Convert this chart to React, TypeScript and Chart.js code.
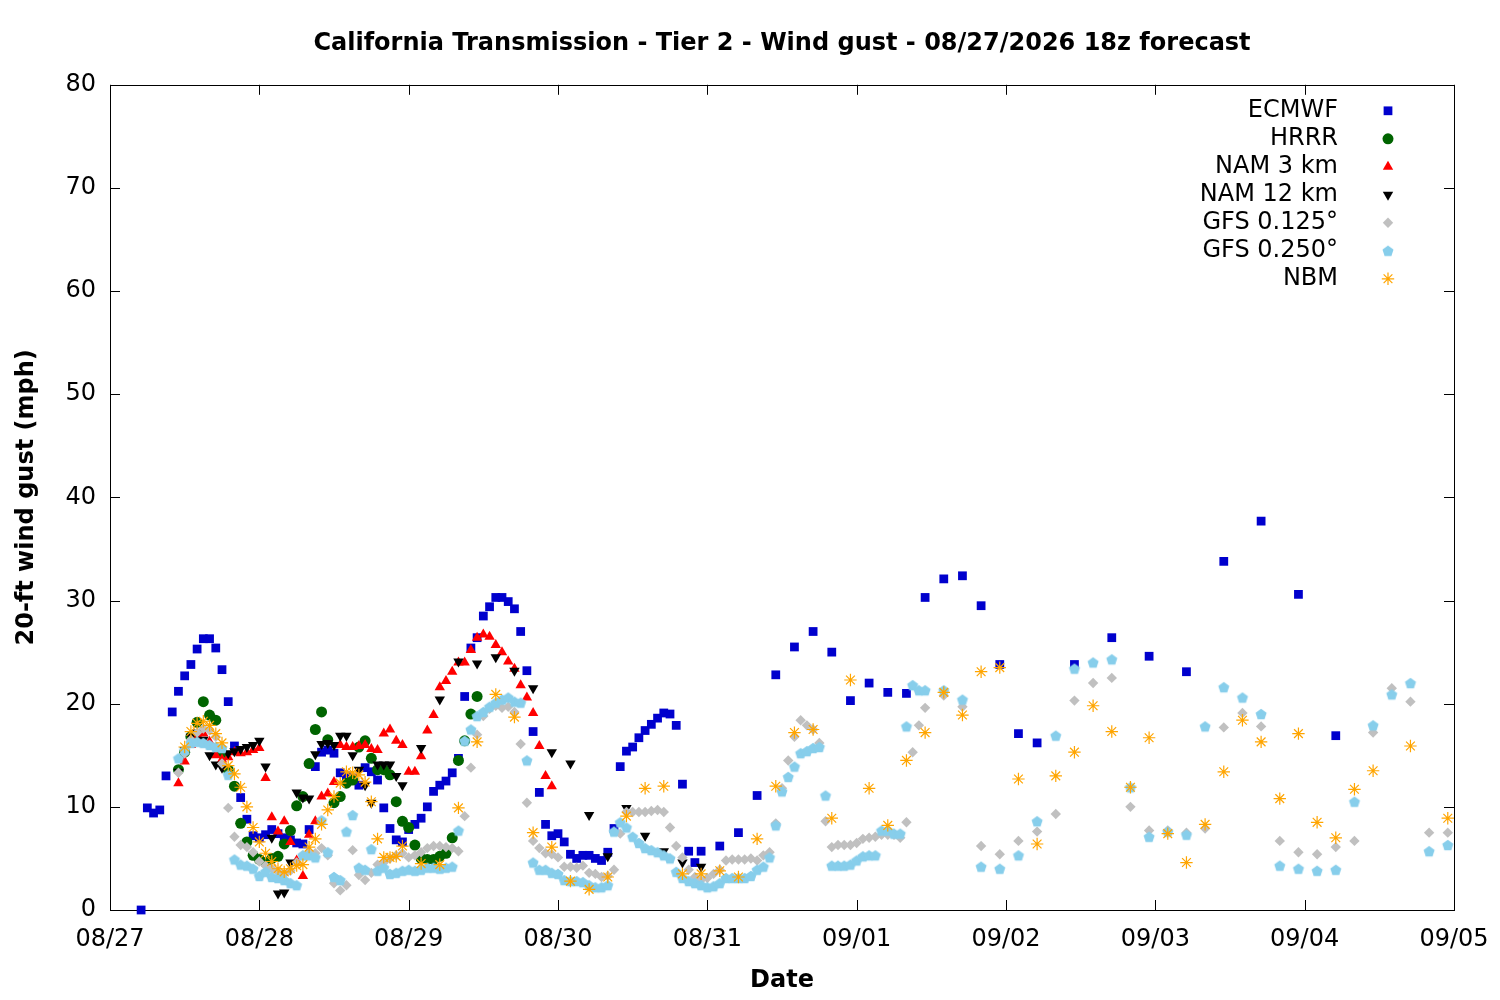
import { useEffect, useRef } from "react";
import { Chart, registerables } from "chart.js";
import { drawPoint } from "chart.js/helpers";

Chart.register(...registerables);

// x axis is hours since 08/27 00 local time, one tick per day
const dayLabels = ["08/27", "08/28", "08/29", "08/30", "08/31", "09/01", "09/02", "09/03", "09/04", "09/05"];
const yTickValues = [0, 10, 20, 30, 40, 50, 60, 70, 80];

const ecmwfHours = [
  5, 6, 7, 8, 9, 10, 11, 12, 13, 14, 15, 16, 17, 18, 19, 20, 21, 22, 23, 24, 25, 26, 27, 28, 29, 30, 31, 32, 33, 34,
  35, 36, 37, 38, 39, 40, 41, 42, 43, 44, 45, 46, 47, 48, 49, 50, 51, 52, 53, 54, 55, 56, 57, 58, 59, 60, 61, 62, 63,
  64, 65, 66, 67, 68, 69, 70, 71, 72, 73, 74, 75, 76, 77, 78, 79, 80, 81, 82, 83, 84, 85, 86, 87, 88, 89, 90, 91, 92,
  93, 94, 95, 98, 101, 104, 107, 110, 113, 116, 119, 122, 125, 128, 131, 134, 137, 140, 143, 146, 149, 155, 161, 167,
  173, 179, 185, 191, 197,
];
const ecmwfGust = [
  0, 9.9, 9.4, 9.7, 13.0, 19.2, 21.2, 22.7, 23.8, 25.3,
  26.3, 26.3, 25.4, 23.3, 20.2, 15.9, 10.9, 8.8, 7.2, 7.0,
  7.3, 7.8, 7.4, 7.0, 6.8, 6.5, 6.4, 7.8, 13.9, 15.3,
  15.5, 15.2, 13.3, 13.0, 12.8, 12.1, 13.8, 13.4, 12.6, 9.9,
  7.9, 6.8, 6.6, 7.8, 8.3, 8.9, 10.0, 11.5, 12.1, 12.5,
  13.3, 14.7, 20.7, 25.4, 26.4, 28.5, 29.4, 30.3, 30.3, 29.9,
  29.2, 27.0, 23.2, 17.3, 11.4, 8.3, 7.2, 7.4, 6.6, 5.4,
  5.0, 5.3, 5.3, 5.0, 4.8, 5.6, 7.9, 13.9, 15.4, 15.8,
  16.7, 17.4, 18.0, 18.6, 19.1, 19.0, 17.9, 12.2, 5.7, 4.6,
  5.7,
  6.2, 7.5, 11.1, 22.8, 25.5, 27.0, 25.0, 20.3, 22.0, 21.1, 21.0, 30.3, 32.1, 32.4, 29.5, 23.8, 17.1, 16.2,
  23.8, 26.4, 24.6, 23.1, 33.8, 37.7, 30.6, 16.9,
];

const hrrrHours = [
  11, 12, 13, 14, 15, 16, 17, 18, 19, 20, 21, 22, 23, 24, 25, 26, 27, 28, 29, 30, 31, 32, 33, 34, 35, 36, 37, 38, 39,
  40, 41, 42, 43, 44, 45, 46, 47, 48, 49, 50, 51, 52, 53, 54, 55, 56, 57, 58, 59,
];
const hrrrGust = [
  13.6, 15.3, 16.8, 18.2, 20.2, 18.9, 18.4, 15.2, 13.6, 12.0,
  8.4, 6.6, 5.3, 4.9, 4.6, 5.0, 5.2, 6.4, 7.7, 10.1,
  11.0, 14.2, 17.5, 19.2, 16.5, 10.4, 11.0, 12.3, 12.6, 15.8,
  16.4, 14.7, 13.6, 13.6, 13.1, 10.5, 8.6, 8.0, 6.3, 5.0,
  4.9, 4.9, 5.2, 5.5, 7.0, 14.5, 16.4, 19.0, 20.7,
];

const nam3Hours = [
  11, 12, 13, 14, 15, 16, 17, 18, 19, 20, 21, 22, 23, 24, 25, 26, 27, 28, 29, 30, 31, 32, 33, 34, 35, 36, 37, 38, 39,
  40, 41, 42, 43, 44, 45, 46, 47, 48, 49, 50, 51, 52, 53, 54, 55, 56, 57, 58, 59, 60, 61, 62, 63, 64, 65, 66, 67, 68,
  69, 70, 71,
];
const nam3Gust = [
  12.3, 14.4, 16.0, 17.0, 17.1, 16.3, 15.0, 14.6, 14.8, 15.3,
  15.2, 15.3, 15.5, 15.7, 12.8, 9.0, 7.6, 8.6, 6.6, 4.8,
  3.3, 7.3, 8.6, 11.0, 11.3, 12.4, 16.0, 15.8, 15.8, 15.9,
  16.0, 15.6, 15.5, 17.1, 17.5, 16.4, 16.0, 13.4, 13.4, 14.9,
  17.4, 18.9, 21.6, 22.2, 23.1, 24.0, 24.0, 25.2, 26.4, 26.7,
  26.5, 25.7, 25.0, 24.1, 23.4, 21.8, 20.6, 19.1, 15.9, 13.0,
  12.0,
];

const nam12Hours = [
  11, 12, 13, 14, 15, 16, 17, 18, 19, 20, 21, 22, 23, 24, 25, 26, 27, 28, 29, 30, 31, 32, 33, 34, 35, 36, 37, 38, 39,
  40, 41, 42, 43, 44, 45, 46, 47, 50, 53, 56, 59, 62, 65, 68, 71, 74, 77, 80, 83, 86, 89, 92, 95,
];
const nam12Gust = [
  13.4, 15.5, 16.8, 17.2, 16.5, 15.0, 14.1, 13.8, 15.2, 15.4,
  15.6, 15.8, 16.0, 16.4, 13.9, 7.0, 1.6, 1.7, 4.6, 11.4,
  10.9, 10.8, 15.1, 16.1, 16.2, 16.0, 16.9, 16.9, 15.0, 13.6,
  12.1, 10.4, 14.1, 14.1, 14.1, 13.0, 12.1,
  15.7, 20.4, 24.1, 23.9, 24.5, 23.2, 21.5, 15.3, 14.2, 9.2, 5.2, 9.9, 7.2, 5.7, 4.6, 4.2,
];

const gfsHours = [
  11, 12, 13, 14, 15, 16, 17, 18, 19, 20, 21, 22, 23, 24, 25, 26, 27, 28, 29, 30, 31, 32, 33, 34, 35, 36, 37, 38, 39,
  40, 41, 42, 43, 44, 45, 46, 47, 48, 49, 50, 51, 52, 53, 54, 55, 56, 57, 58, 59, 60, 61, 62, 63, 64, 65, 66, 67, 68,
  69, 70, 71, 72, 73, 74, 75, 76, 77, 78, 79, 80, 81, 82, 83, 84, 85, 86, 87, 88, 89, 90, 91, 92, 93, 94, 95, 96, 97,
  98, 99, 100, 101, 102, 103, 104, 105, 106, 107, 108, 109, 110, 111, 112, 113, 114, 115, 116, 117, 118, 119, 120,
  121, 122, 123, 124, 125, 126, 127, 128, 129, 130, 131, 134, 137, 140, 143, 146, 149, 152, 155, 158, 161, 164, 167,
  170, 173, 176, 179, 182, 185, 188, 191, 194, 197, 200, 203, 206, 209, 212, 215,
];
const gfs0125Gust = [
  13.3, 15.2, 16.5, 17.2, 17.6, 17.4, 16.8, 14.2, 9.9, 7.1,
  6.3, 6.1, 5.6, 4.7, 4.3, 4.0, 3.7, 3.5, 3.8, 4.6,
  5.3, 5.6, 5.5, 6.0, 5.3, 2.6, 1.9, 2.4, 5.8, 3.4,
  2.9, 3.6, 4.4, 4.6, 5.0, 5.3, 5.5, 5.1, 5.3, 5.6,
  6.0, 6.2, 6.2, 6.1, 6.0, 5.7, 9.1, 13.8, 17.0, 18.8,
  19.5, 19.8, 19.6, 19.7, 19.2, 16.1, 10.4, 6.7, 6.0, 5.5,
  5.4, 5.1, 4.2, 4.2, 4.1, 4.3, 3.6, 3.5, 3.2, 3.3,
  3.9, 7.4, 9.5, 9.5, 9.5, 9.5, 9.6, 9.7, 9.5, 8.0,
  6.2, 5.1, 3.9, 3.2, 2.9, 3.1, 3.5, 3.9, 4.8, 4.9,
  4.9, 4.9, 5.0, 4.8, 5.3, 5.6, 8.4, 11.8, 14.5, 16.8,
  18.4, 17.9, 17.5, 16.2, 8.6, 6.1, 6.3, 6.3, 6.3, 6.5,
  6.9, 7.0, 7.1, 7.3, 7.3, 7.3, 7.0, 8.5, 15.3, 17.9,
  19.6,
  20.8, 19.7, 6.2, 5.4, 6.7, 7.6, 9.3, 20.3, 22.0, 22.5,
  10.0, 7.7, 7.7, 7.5, 7.9, 17.7, 19.1, 17.8, 6.7, 5.6,
  5.4, 6.1, 6.7, 17.2, 21.5, 20.2, 7.5, 7.5,
];
const gfs0250Gust = [
  14.7, 15.5, 16.2, 16.3, 16.2, 16.0, 15.8, 15.7, 13.1, 4.9,
  4.4, 4.3, 4.0, 3.3, 3.7, 3.2, 3.1, 2.9, 2.6, 2.4,
  5.3, 5.3, 5.1, 8.7, 5.6, 3.2, 2.9, 7.6, 9.2, 4.1,
  3.9, 5.9, 3.8, 4.1, 3.5, 3.6, 3.8, 3.9, 3.8, 3.9,
  4.1, 4.1, 4.0, 4.1, 4.2, 7.7, 16.4, 17.5, 18.8, 19.2,
  19.7, 20.1, 20.4, 20.6, 20.2, 20.1, 14.5, 4.6, 3.9, 3.9,
  3.6, 3.5, 2.9, 2.8, 2.8, 2.7, 2.4, 2.2, 2.2, 2.4,
  7.6, 8.5, 8.0, 7.1, 6.5, 6.0, 5.8, 5.6, 5.3, 5.0,
  3.7, 3.1, 2.8, 2.6, 2.4, 2.2, 2.3, 2.6, 3.1, 3.1,
  3.1, 3.1, 3.3, 3.9, 4.2, 5.1, 8.2, 11.5, 12.9, 13.9,
  15.2, 15.4, 15.7, 15.8, 11.1, 4.3, 4.3, 4.3, 4.4, 4.8,
  5.2, 5.3, 5.3, 7.7, 7.7, 7.4, 7.4, 17.8, 21.8, 21.3,
  21.3,
  21.3, 20.4, 4.2, 4.0, 5.3, 8.6, 16.9, 23.4, 24.0, 24.3,
  11.9, 7.1, 7.6, 7.3, 17.8, 21.6, 20.6, 19.0, 4.3, 4.0,
  3.8, 3.9, 10.5, 17.9, 20.9, 22.0, 5.7, 6.3,
];

const nbmHours = [
  12, 13, 14, 15, 16, 17, 18, 19, 20, 21, 22, 23, 24, 25, 26, 27, 28, 29, 30, 31, 32, 33, 34, 35, 36, 37, 38, 39, 40,
  41, 42, 43, 44, 45, 46, 47, 50, 53, 56, 59, 62, 65, 68, 71, 74, 77, 80, 83, 86, 89, 92, 95, 98, 101, 104, 107, 110,
  113, 116, 119, 122, 125, 128, 131, 134, 137, 140, 143, 146, 149, 152, 155, 158, 161, 164, 167, 170, 173, 176, 179,
  182, 185, 188, 191, 194, 197, 200, 203, 209, 215,
];
const nbmGust = [
  15.8, 17.3, 18.1, 18.3, 17.9, 17.1, 16.2, 14.0, 13.2, 11.9,
  10.0, 8.0, 6.6, 5.5, 4.7, 4.0, 3.7, 4.0, 4.3, 4.4,
  6.1, 6.9, 8.3, 9.7, 11.0, 12.3, 13.4, 13.3, 13.1, 12.4,
  10.5, 6.9, 5.1, 5.1, 5.2, 6.2,
  4.5, 4.4, 9.9, 16.3, 20.9, 18.7, 7.5, 6.1, 2.8, 2.0,
  3.2, 9.1, 11.8, 12.0, 3.5, 3.5, 3.8, 3.2, 6.9, 12.0,
  17.2, 17.5, 8.9, 22.3, 11.8, 8.2, 14.5, 17.2, 21.1, 18.9,
  23.1, 23.5, 12.7, 6.4, 13.0, 15.3, 19.8, 17.3, 11.9, 16.7,
  7.4, 4.6, 8.3, 13.4, 18.4, 16.3, 10.8, 17.1, 8.5, 7.0,
  11.7, 13.5, 15.9, 8.9,
];

const FONT = '"DejaVu Sans", sans-serif';
const FONT_SIZE = 24;

const makePentagon = (color: string, r: number) => {
  const c = document.createElement("canvas");
  const s = Math.ceil(r * 2) + 2;
  c.width = s;
  c.height = s;
  const g = c.getContext("2d")!;
  g.fillStyle = color;
  g.beginPath();
  for (let i = 0; i < 5; i++) {
    const a = -Math.PI / 2 + (i * 2 * Math.PI) / 5;
    const px = s / 2 + r * Math.cos(a);
    const py = s / 2 + 0.6 + r * Math.sin(a);
    if (i === 0) g.moveTo(px, py);
    else g.lineTo(px, py);
  }
  g.closePath();
  g.fill();
  return c;
};

const App = () => {
  const canvasRef = useRef<HTMLCanvasElement | null>(null);

  useEffect(() => {
    if (!canvasRef.current) return;

    const pentagon = makePentagon("#87ceeb", 5.8);

    // drawing order: NBM on top, ECMWF at the bottom
    const series: any[] = [
      { label: "ECMWF", hours: ecmwfHours, values: ecmwfGust, color: "#0000cd", style: "rect", radius: 6.2, rotation: 0, border: 0 },
      { label: "HRRR", hours: hrrrHours, values: hrrrGust, color: "#006400", style: "circle", radius: 5.5, rotation: 0, border: 0 },
      { label: "NAM 3 km", hours: nam3Hours, values: nam3Gust, color: "#ff0000", style: "triangle", radius: 6, rotation: 0, border: 0 },
      { label: "NAM 12 km", hours: nam12Hours, values: nam12Gust, color: "#000000", style: "triangle", radius: 6, rotation: 180, border: 0 },
      { label: "GFS 0.125°", hours: gfsHours, values: gfs0125Gust, color: "#c0c0c0", style: "rectRot", radius: 5.2, rotation: 0, border: 0 },
      { label: "GFS 0.250°", hours: gfsHours, values: gfs0250Gust, color: "#87ceeb", style: pentagon, radius: 6, rotation: 0, border: 0 },
      { label: "NBM", hours: nbmHours, values: nbmGust, color: "#ffa500", style: "star", radius: 6.2, rotation: 0, border: 1.2 },
    ];

    // gnuplot style border with inward ticks on all four sides
    const framePlugin = {
      id: "frame",
      beforeDatasetsDraw(chart: any) {
        const { ctx, chartArea, scales } = chart;
        const { left, right, top, bottom } = chartArea;
        ctx.save();
        ctx.strokeStyle = "#000";
        ctx.lineWidth = 1;
        ctx.beginPath();
        yTickValues.forEach((v) => {
          const py = Math.round(scales.y.getPixelForValue(v)) + 0.5;
          ctx.moveTo(left, py);
          ctx.lineTo(left + 10, py);
          ctx.moveTo(right, py);
          ctx.lineTo(right - 10, py);
        });
        dayLabels.forEach((_, i) => {
          const px = Math.round(scales.x.getPixelForValue(i * 24)) + 0.5;
          ctx.moveTo(px, bottom);
          ctx.lineTo(px, bottom - 10);
          ctx.moveTo(px, top);
          ctx.lineTo(px, top + 10);
        });
        ctx.stroke();
        ctx.strokeRect(Math.round(left) + 0.5, Math.round(top) + 0.5, Math.round(right - left), Math.round(bottom - top));
        ctx.restore();
      },
    };

    // key in the upper right corner: text right aligned, sample to the right
    const keyPlugin = {
      id: "key",
      afterDatasetsDraw(chart: any) {
        const { ctx, chartArea } = chart;
        ctx.save();
        ctx.font = `${FONT_SIZE}px ${FONT}`;
        ctx.textAlign = "right";
        ctx.textBaseline = "middle";
        series.forEach((s, i) => {
          const yy = chartArea.top + 26 + i * 28;
          ctx.fillStyle = "#000";
          ctx.fillText(s.label, chartArea.right - 116, yy);
          ctx.fillStyle = s.color;
          ctx.strokeStyle = s.color;
          ctx.lineWidth = s.border || 1;
          drawPoint(ctx, { pointStyle: s.style, rotation: s.rotation, radius: s.radius, borderWidth: s.border }, chartArea.right - 66, yy);
        });
        ctx.restore();
      },
    };

    const chart = new Chart(canvasRef.current, {
      type: "scatter",
      data: {
        datasets: series.map((s, i) => ({
          label: s.label,
          data: s.hours.map((h: number, k: number) => ({ x: h, y: s.values[k] })),
          pointStyle: s.style,
          pointRadius: s.radius,
          pointRotation: s.rotation,
          pointBorderWidth: s.border,
          backgroundColor: s.color,
          borderColor: s.color,
          showLine: false,
          clip: false,
          order: series.length - i,
        })),
      },
      options: {
        animation: false,
        responsive: false,
        events: [],
        layout: { padding: { left: 0, right: 46, top: 0, bottom: 0 } },
        plugins: {
          legend: { display: false },
          tooltip: { enabled: false },
          title: {
            display: true,
            fullSize: false,
            text: "California Transmission - Tier 2 - Wind gust - 08/27/2026 18z forecast",
            color: "#000",
            font: { family: FONT, size: FONT_SIZE, weight: "bold" },
            padding: { top: 29, bottom: 27 },
          },
        },
        scales: {
          x: {
            type: "linear",
            min: 0,
            max: 216,
            afterFit: (s: any) => {
              s.height = 90;
              s.paddingLeft = 0;
              s.paddingRight = 0;
            },
            grid: { display: false, drawTicks: false },
            border: { display: false },
            ticks: {
              stepSize: 24,
              autoSkip: false,
              maxRotation: 0,
              padding: 15,
              color: "#000",
              font: { family: FONT, size: FONT_SIZE },
              callback: (v: any) => dayLabels[Math.round(Number(v) / 24)] ?? "",
            },
            title: {
              display: true,
              text: "Date",
              color: "#000",
              font: { family: FONT, size: FONT_SIZE, weight: "bold" },
              padding: { top: 0, bottom: 5 },
            },
          },
          y: {
            min: 0,
            max: 80,
            afterFit: (s: any) => {
              s.width = 110;
              s.paddingTop = 0;
              s.paddingBottom = 0;
            },
            grid: { display: false, drawTicks: false },
            border: { display: false },
            ticks: {
              stepSize: 10,
              padding: 14,
              color: "#000",
              font: { family: FONT, size: FONT_SIZE },
            },
            title: {
              display: true,
              text: "20-ft wind gust (mph)",
              color: "#000",
              font: { family: FONT, size: FONT_SIZE, weight: "bold" },
              padding: { top: 12, bottom: 0 },
            },
          },
        },
      },
      plugins: [framePlugin, keyPlugin],
    });

    return () => {
      chart.destroy();
    };
  }, []);

  return (
    <div style={{ position: "absolute", left: 0, top: 0, width: 1500, height: 1000, background: "#fff" }}>
      <canvas ref={canvasRef} width={1500} height={1000} style={{ width: 1500, height: 1000 }} />
    </div>
  );
};

export default App;
